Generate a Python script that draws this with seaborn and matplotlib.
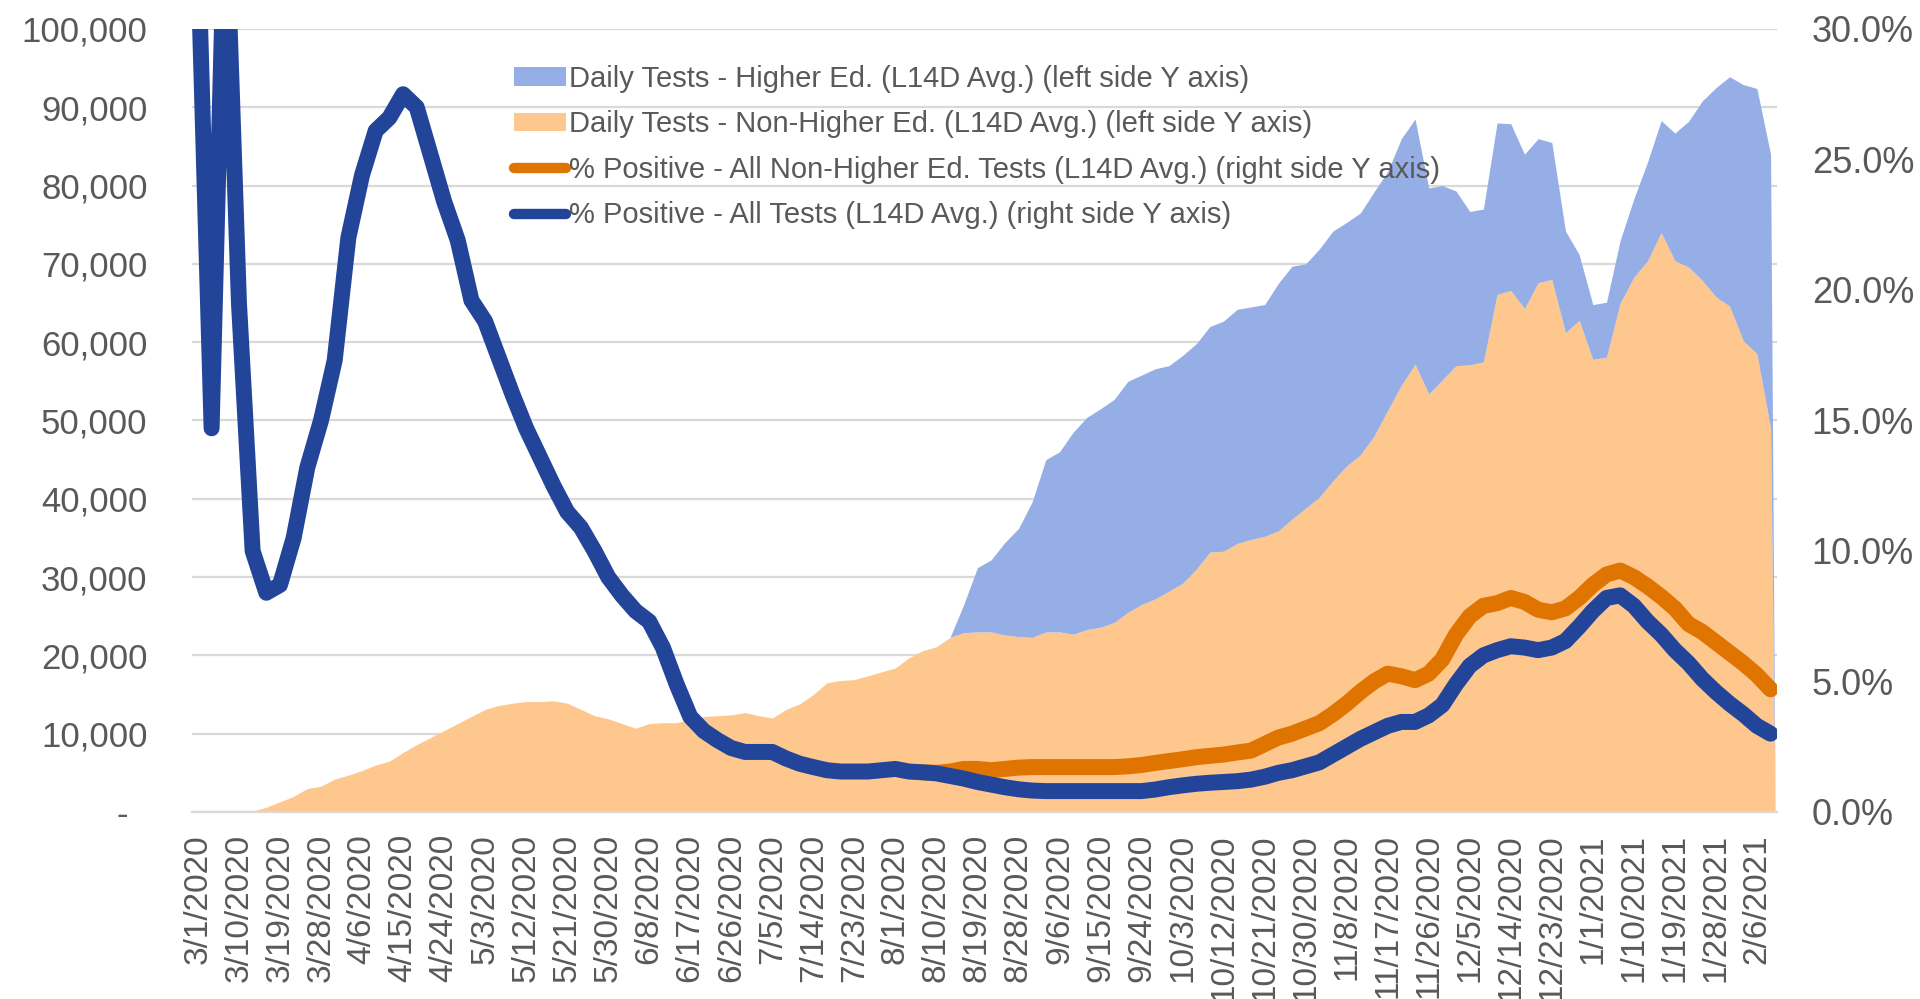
import numpy as np
import pandas as pd
import matplotlib
matplotlib.use("Agg")
import matplotlib.pyplot as plt
import seaborn as sns
from matplotlib.patches import Patch
from matplotlib.lines import Line2D
from matplotlib.ticker import FuncFormatter, MultipleLocator

# values every 3 days from 3/1/2020 (day 0) to 2/9/2021 (day 345)
START = pd.Timestamp("2020-03-01")
STEP = 3
LAST_AREA_DAY = 346  # area series has one more (incomplete) day, 2/10/2021

# Daily tests - non-higher ed (L14D avg), thousands
tests_non_he = [
    0, 0, 0, 0, 0.1, 0.6, 1.3, 2.0, 3.0, 3.3,
    4.2, 4.7, 5.3, 6.0, 6.5, 7.6, 8.6, 9.5, 10.4, 11.3,
    12.2, 13.1, 13.6, 13.9, 14.1, 14.1, 14.2, 13.9, 13.1, 12.3,
    11.9, 11.3, 10.7, 11.3, 11.4, 11.4, 11.8, 12.2, 12.3, 12.4,
    12.7, 12.3, 12.0, 13.1, 13.8, 15.0, 16.5, 16.8, 16.9, 17.4,
    17.9, 18.4, 19.7, 20.6, 21.1, 22.3, 22.9, 23.0, 23.0, 22.6,
    22.4, 22.3, 23.0, 23.0, 22.7, 23.3, 23.6, 24.2, 25.5, 26.5,
    27.2, 28.2, 29.2, 31.0, 33.2, 33.3, 34.3, 34.8, 35.2, 35.9,
    37.4, 38.8, 40.2, 42.3, 44.2, 45.6, 48.0, 51.3, 54.5, 57.2,
    53.4, 55.2, 57.0, 57.1, 57.5, 66.1, 66.6, 64.3, 67.6, 68.0,
    61.2, 62.8, 57.8, 58.1, 65.0, 68.3, 70.4, 74.0, 70.4, 69.6,
    67.9, 65.8, 64.6, 60.2, 58.5, 49.0,
    0,
]

# Daily tests - higher ed (L14D avg), thousands, stacked on top
tests_he = [
    0, 0, 0, 0, 0, 0, 0, 0, 0, 0,
    0, 0, 0, 0, 0, 0, 0, 0, 0, 0,
    0, 0, 0, 0, 0, 0, 0, 0, 0, 0,
    0, 0, 0, 0, 0, 0, 0, 0, 0, 0,
    0, 0, 0, 0, 0, 0, 0, 0, 0, 0,
    0, 0, 0, 0, 0, 0, 3.6, 8.2, 9.2, 11.8,
    13.8, 17.3, 22.0, 23.0, 25.8, 27.1, 27.9, 28.5, 29.5, 29.3,
    29.4, 28.8, 29.1, 28.8, 28.8, 29.4, 29.9, 29.7, 29.6, 31.6,
    32.3, 31.2, 31.7, 31.9, 31.1, 30.9, 31.2, 30.5, 31.5, 31.3,
    26.3, 24.8, 22.3, 19.6, 19.5, 21.9, 21.3, 19.7, 18.4, 17.5,
    13.0, 8.4, 7.0, 7.0, 8.0, 10.0, 12.6, 14.3, 16.3, 18.6,
    22.9, 26.7, 29.3, 32.7, 33.9, 35.0,
    0,
]

# % positive - all tests (L14D avg)
pos_all = [
    33.0, 14.7, 35.0, 19.5, 10.0, 8.4, 8.7, 10.5, 13.2, 15.0,
    17.3, 22.0, 24.4, 26.1, 26.6, 27.5, 27.0, 25.2, 23.4, 21.9,
    19.6, 18.8, 17.4, 16.0, 14.7, 13.6, 12.5, 11.5, 10.9, 10.0,
    9.0, 8.3, 7.7, 7.3, 6.3, 4.9, 3.65, 3.1, 2.75, 2.45,
    2.3, 2.3, 2.3, 2.05, 1.85, 1.72, 1.6, 1.55, 1.55, 1.55,
    1.6, 1.65, 1.55, 1.52, 1.48, 1.38, 1.28, 1.15, 1.05, 0.95,
    0.87, 0.82, 0.8, 0.8, 0.8, 0.8, 0.8, 0.8, 0.8, 0.8,
    0.86, 0.95, 1.02, 1.08, 1.12, 1.15, 1.18, 1.24, 1.35, 1.5,
    1.6, 1.75, 1.9, 2.2, 2.5, 2.8, 3.05, 3.3, 3.45, 3.45,
    3.7, 4.1, 4.9, 5.6, 6.0, 6.2, 6.35, 6.3, 6.2, 6.3,
    6.55, 7.1, 7.7, 8.2, 8.3, 7.9, 7.3, 6.8, 6.2, 5.7,
    5.1, 4.6, 4.15, 3.75, 3.3, 3.0,
]

# % positive - all non-higher ed tests (hidden under the blue line before mid-Aug)
pos_non_he = [
    None, None, None, None, None, None, None, None, None, None,
    None, None, None, None, None, None, None, None, None, None,
    None, None, None, None, None, None, None, None, None, None,
    None, None, None, None, None, None, None, None, None, None,
    None, None, None, None, None, None, None, None, None, None,
    None, None, None, 1.52, 1.5, 1.55, 1.65, 1.65, 1.6, 1.65,
    1.7, 1.72, 1.72, 1.72, 1.72, 1.72, 1.72, 1.72, 1.75, 1.8,
    1.88, 1.95, 2.02, 2.1, 2.15, 2.2, 2.28, 2.35, 2.6, 2.85,
    3.0, 3.2, 3.4, 3.75, 4.15, 4.6, 5.0, 5.3, 5.2, 5.05,
    5.3, 5.85, 6.8, 7.5, 7.9, 8.0, 8.2, 8.05, 7.75, 7.65,
    7.8, 8.2, 8.7, 9.1, 9.25, 9.0, 8.65, 8.25, 7.8, 7.2,
    6.9, 6.5, 6.1, 5.7, 5.25, 4.7,
]

LABELS = [
    "Daily Tests - Higher Ed. (L14D Avg.) (left side Y axis)",
    "Daily Tests - Non-Higher Ed. (L14D Avg.) (left side Y axis)",
    "% Positive - All Non-Higher Ed. Tests (L14D Avg.) (right side Y axis)",
    "% Positive - All Tests (L14D Avg.) (right side Y axis)",
]

C_HE = "#95AEE6"
C_NON_HE = "#FDC78E"
C_LINE_NON_HE = "#DF7400"
C_LINE_ALL = "#22459A"
C_GRID = "#D9D9D9"
C_TEXT = "#595959"

sns.set_style("white")
plt.rcParams["font.family"] = ["Liberation Sans", "DejaVu Sans"]

line_days = np.arange(len(pos_all)) * STEP
area_days = np.append(np.arange(len(tests_non_he) - 1) * STEP, LAST_AREA_DAY)

df = pd.DataFrame({"day": line_days, "pos_all": pos_all,
                   "pos_non_he": pd.to_numeric(pd.Series(pos_non_he), errors="coerce")})

fig = plt.figure(figsize=(19.2, 9.99), dpi=100)
ax = fig.add_axes([0.1, 0.1872, 0.8255, 0.7838])
ax2 = ax.twinx()

# stacked areas (left axis)
ax.stackplot(area_days, tests_non_he, tests_he, colors=[C_NON_HE, C_HE], linewidth=0)
ax.set_axisbelow(True)
ax.yaxis.grid(True, color=C_GRID, linewidth=1.6)
ax.set_ylim(0, 100)
ax.yaxis.set_major_locator(MultipleLocator(10))
ax.yaxis.set_major_formatter(FuncFormatter(lambda v, p: "-  " if v == 0 else f"{int(round(v * 1000)):,}"))
ax.set_xlim(-1.3, 346.4)

# % positive lines (right axis)
sub = df.dropna(subset=["pos_non_he"])
sns.lineplot(x=sub["day"], y=sub["pos_non_he"], ax=ax2, color=C_LINE_NON_HE, linewidth=11.5,
             estimator=None, solid_capstyle="round", solid_joinstyle="round")
sns.lineplot(x=df["day"], y=df["pos_all"], ax=ax2, color=C_LINE_ALL, linewidth=11.5,
             estimator=None, solid_capstyle="round", solid_joinstyle="round")
ax2.set_ylim(0, 30)
ax2.yaxis.set_major_locator(MultipleLocator(5))
ax2.yaxis.set_major_formatter(FuncFormatter(lambda v, p: f"{v:.1f}%"))
ax2.set_xlim(-1.3, 346.4)
ax2.set_xlabel("")
ax2.set_ylabel("")
ax.set_xlabel("")
ax.set_ylabel("")

# x ticks every 9 days
tick_days = np.arange(0, 343, 9)
tick_dates = [START + pd.Timedelta(days=int(d)) for d in tick_days]
ax.set_xticks(tick_days)
ax.set_xticklabels([f"{d.month}/{d.day}/{d.year}" for d in tick_dates], rotation=90)

for s in ["top", "left", "right"]:
    ax.spines[s].set_visible(False)
for s in ["top", "left", "right", "bottom"]:
    ax2.spines[s].set_visible(False)
ax.spines["bottom"].set_color(C_GRID)
ax.spines["bottom"].set_linewidth(1.6)

ax.tick_params(axis="y", length=0, pad=32, labelsize=25, labelcolor=C_TEXT)
ax.tick_params(axis="x", length=0, pad=16, labelsize=24, labelcolor=C_TEXT)
ax2.tick_params(axis="y", length=0, pad=25, labelsize=26, labelcolor=C_TEXT)

handles = [
    Patch(facecolor=C_HE, edgecolor="none"),
    Patch(facecolor=C_NON_HE, edgecolor="none"),
    Line2D([], [], color=C_LINE_NON_HE, linewidth=7.5, solid_capstyle="round"),
    Line2D([], [], color=C_LINE_ALL, linewidth=7.5, solid_capstyle="round"),
]
leg = ax2.legend(handles, LABELS, loc="upper left", bbox_to_anchor=(0.2677, 0.935),
                 bbox_transform=fig.transFigure, frameon=False, fontsize=21,
                 handlelength=1.8, handleheight=0.6, handletextpad=0.1,
                 labelspacing=0.6, borderpad=0, borderaxespad=0)
for t in leg.get_texts():
    t.set_color(C_TEXT)

fig.savefig("out.png", dpi=100)
